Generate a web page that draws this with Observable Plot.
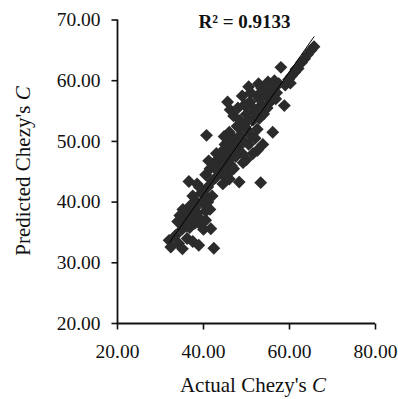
<!DOCTYPE html>
<html>
<head>
<meta charset="utf-8">
<script src="https://cdn.jsdelivr.net/npm/d3@7"></script>
<script src="https://cdn.jsdelivr.net/npm/@observablehq/plot@0.6"></script>
<style>
  html, body { margin: 0; padding: 0; background: #fff; }
  #chart { width: 398px; height: 399px; }
</style>
</head>
<body>
<div id="chart"></div>
<script>
// Actual Chezy's C values
const actual = [
  32.0,32.4,33.5,34.2,35.1,35.0,34.0,35.5,36.2,36.8,37.5,38.9,38.0,36.0,35.2,37.0,38.5,39.5,40.0,41.7,42.4,40.5,41.5,38.5,39.8,37.8,36.5,34.5,
  39.0,40.5,37.0,36.0,41.0,42.0,38.0,
  36.6,38.5,39.5,40.5,41.0,42.0,40.5,41.5,42.5,43.5,44.0,42.8,41.2,43.0,44.5,45.5,46.0,48.3,47.0,37.5,39.0,44.5,45.5,
  43.0,44.0,45.0,46.0,46.5,45.0,
  40.7,44.5,45.0,45.5,46.5,47.0,47.5,48.0,48.5,49.0,49.5,46.0,44.8,47.8,50.0,50.5,51.0,49.2,51.5,50.0,52.0,53.3,52.5,53.8,
  46.5,47.5,48.5,49.5,48.5,
  45.6,46.2,47.0,48.0,48.5,49.5,49.0,50.0,50.8,51.5,52.0,51.0,52.5,52.8,53.5,53.5,54.5,54.0,55.0,55.5,52.5,53.0,56.1,54.8,50.5,
  50.5,51.5,50.0,53.0,54.0,55.5,
  56.0,56.5,57.0,57.5,58.8,58.0,56.8,59.0,59.8,60.5,61.2,62.0,62.8,63.5,64.2,65.0,65.7,60.2,61.5
];
// Predicted Chezy's C values
const predicted = [
  33.7,32.6,34.5,33.2,32.3,35.5,36.8,37.0,34.0,35.8,33.5,32.9,36.5,38.5,38.8,39.5,38.2,37.0,35.5,35.6,32.4,38.5,38.8,40.0,39.8,37.8,37.0,37.8,
  36.5,37.0,37.5,36.0,40.0,41.0,39.0,
  43.4,43.0,41.5,41.0,42.5,43.5,44.5,45.5,46.5,45.0,47.0,44.0,46.8,48.0,44.5,45.8,43.8,43.3,45.5,41.0,42.5,43.0,44.5,
  45.5,46.0,46.5,47.0,46.0,48.0,
  51.0,48.5,49.5,47.5,48.8,50.5,47.5,49.0,51.0,48.0,50.0,51.5,50.8,52.5,52.0,49.5,51.0,46.5,48.0,47.0,50.5,43.2,48.5,49.5,
  50.0,49.0,50.0,52.5,52.5,
  56.5,55.2,54.2,55.5,53.5,56.0,57.5,54.5,56.5,53.5,55.0,58.0,57.5,59.5,56.0,58.8,57.5,54.5,59.8,56.5,52.0,53.8,51.5,55.5,59.0,
  53.5,55.5,56.0,57.0,58.5,58.0,
  58.5,60.0,58.0,59.5,55.9,62.2,57.0,59.3,60.2,60.8,61.4,62.0,63.0,63.6,64.3,65.0,65.6,59.6,61.9
];
const xTicks = [20, 40, 60, 80];
const yTicks = [20, 30, 40, 50, 60, 70];
const titleText = "R² = 0.9133";

const data = actual.map((a, i) => ({actual: a, predicted: predicted[i]}));
const serif = "'Liberation Serif', 'Times New Roman', serif";
const fmt = d => d.toFixed(2);

// small tick-mark symbols (outward ticks, 6px long)
const tickDown = {draw(ctx) { ctx.moveTo(0, 0); ctx.lineTo(0, 6); }};
const tickLeft = {draw(ctx) { ctx.moveTo(0, 0); ctx.lineTo(-6, 0); }};

const svg = Plot.plot({
  width: 398,
  height: 399,
  marginLeft: 117,
  marginRight: 23,
  marginTop: 19.5,
  marginBottom: 76,
  style: {fontFamily: serif, background: "#fff", color: "#111"},
  x: {domain: [20, 80], axis: null},
  y: {domain: [20, 70], axis: null},
  marks: [
    Plot.dot(xTicks, {x: d => d, frameAnchor: "bottom", symbol: tickDown, stroke: "#111", strokeWidth: 1.6, fill: "none"}),
    Plot.dot(yTicks, {y: d => d, frameAnchor: "left", symbol: tickLeft, stroke: "#111", strokeWidth: 1.6, fill: "none"}),
    Plot.text(yTicks, {y: d => d, frameAnchor: "left", dx: -17, textAnchor: "end", text: fmt, fontSize: 19.5, fill: "#111"}),
    Plot.text(xTicks, {x: d => d, frameAnchor: "bottom", dy: 21, lineAnchor: "top", text: fmt, fontSize: 19.5, fill: "#111"}),
    Plot.ruleX([20], {strokeWidth: 1.8, stroke: "#111"}),
    Plot.ruleY([20], {strokeWidth: 1.8, stroke: "#111"}),
    Plot.dot(data, {x: "actual", y: "predicted", symbol: "diamond2", r: 5.8, fill: "#2b2b2b", stroke: "none"}),
    Plot.linearRegressionY(data, {x: "actual", y: "predicted", stroke: "#000", strokeWidth: 1, ci: 0}),
    Plot.text([titleText], {frameAnchor: "top", x: 50, dx: -2, dy: -6, fontSize: 19, fontWeight: "bold", fill: "#111", lineAnchor: "top"})
  ]
});

const s = d3.select(svg);
const xl = s.append("text")
  .attr("x", 253).attr("y", 392)
  .attr("text-anchor", "middle")
  .attr("font-family", serif).attr("font-size", 21).attr("fill", "#111");
xl.append("tspan").text("Actual Chezy's ");
xl.append("tspan").attr("font-style", "italic").text("C");

const yl = s.append("text")
  .attr("transform", "translate(30,171) rotate(-90)")
  .attr("text-anchor", "middle")
  .attr("font-family", serif).attr("font-size", 21).attr("fill", "#111");
yl.append("tspan").text("Predicted Chezy's ");
yl.append("tspan").attr("font-style", "italic").text("C");

document.getElementById("chart").appendChild(svg);
</script>
</body>
</html>
